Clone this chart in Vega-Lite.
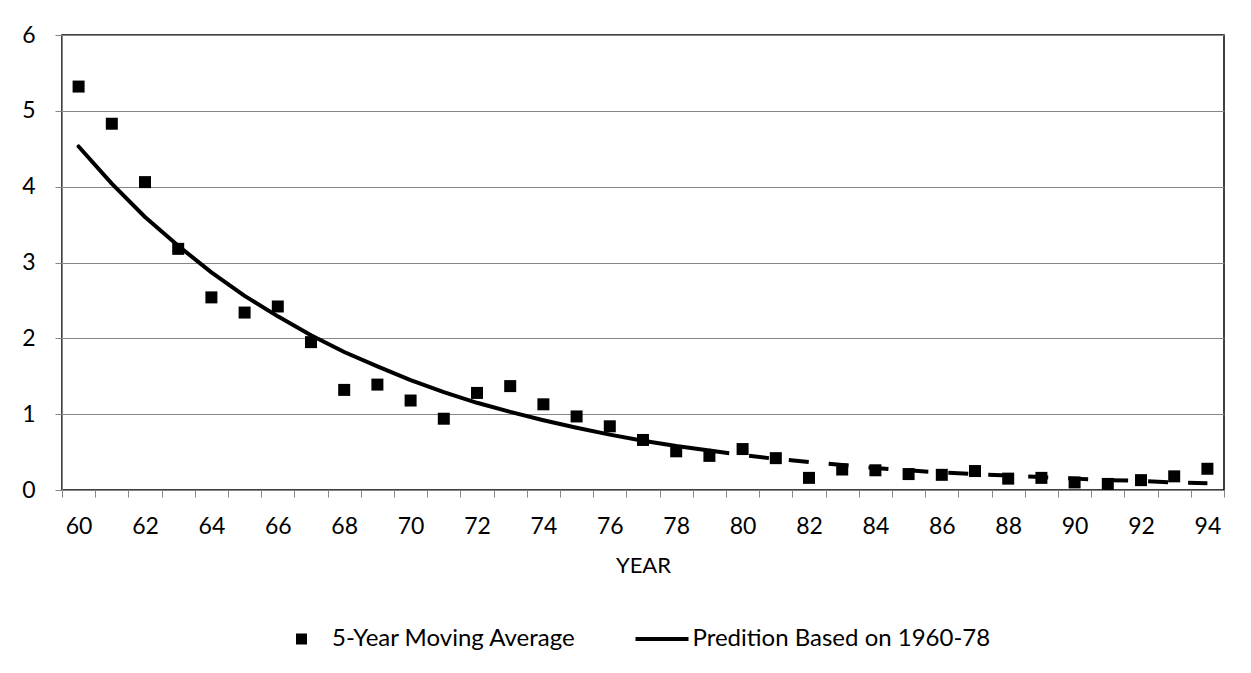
{
  "$schema": "https://vega.github.io/schema/vega-lite/v6.json",
  "width": 1162,
  "height": 455,
  "autosize": {"type": "none"},
  "padding": {"left": 62, "top": 35, "right": 27, "bottom": 183},
  "background": "white",
  "config": {
    "font": "Lato",
    "view": {"stroke": "black", "strokeWidth": 1.5},
    "axis": {
      "labelFont": "Lato",
      "labelFontSize": 23,
      "labelColor": "black",
      "titleFont": "Lato",
      "titleFontSize": 22,
      "titleFontWeight": "normal",
      "titleColor": "black",
      "domainColor": "#868686",
      "tickColor": "#868686",
      "gridColor": "#868686",
      "tickSize": 7
    }
  },
  "datasets": {
    "avg": [
      {"year": 60, "value": 5.32, "series": "5-Year Moving Average"},
      {"year": 61, "value": 4.83, "series": "5-Year Moving Average"},
      {"year": 62, "value": 4.06, "series": "5-Year Moving Average"},
      {"year": 63, "value": 3.18, "series": "5-Year Moving Average"},
      {"year": 64, "value": 2.54, "series": "5-Year Moving Average"},
      {"year": 65, "value": 2.34, "series": "5-Year Moving Average"},
      {"year": 66, "value": 2.42, "series": "5-Year Moving Average"},
      {"year": 67, "value": 1.95, "series": "5-Year Moving Average"},
      {"year": 68, "value": 1.32, "series": "5-Year Moving Average"},
      {"year": 69, "value": 1.39, "series": "5-Year Moving Average"},
      {"year": 70, "value": 1.18, "series": "5-Year Moving Average"},
      {"year": 71, "value": 0.94, "series": "5-Year Moving Average"},
      {"year": 72, "value": 1.28, "series": "5-Year Moving Average"},
      {"year": 73, "value": 1.37, "series": "5-Year Moving Average"},
      {"year": 74, "value": 1.13, "series": "5-Year Moving Average"},
      {"year": 75, "value": 0.97, "series": "5-Year Moving Average"},
      {"year": 76, "value": 0.84, "series": "5-Year Moving Average"},
      {"year": 77, "value": 0.66, "series": "5-Year Moving Average"},
      {"year": 78, "value": 0.51, "series": "5-Year Moving Average"},
      {"year": 79, "value": 0.45, "series": "5-Year Moving Average"},
      {"year": 80, "value": 0.54, "series": "5-Year Moving Average"},
      {"year": 81, "value": 0.42, "series": "5-Year Moving Average"},
      {"year": 82, "value": 0.16, "series": "5-Year Moving Average"},
      {"year": 83, "value": 0.27, "series": "5-Year Moving Average"},
      {"year": 84, "value": 0.26, "series": "5-Year Moving Average"},
      {"year": 85, "value": 0.21, "series": "5-Year Moving Average"},
      {"year": 86, "value": 0.20, "series": "5-Year Moving Average"},
      {"year": 87, "value": 0.25, "series": "5-Year Moving Average"},
      {"year": 88, "value": 0.15, "series": "5-Year Moving Average"},
      {"year": 89, "value": 0.16, "series": "5-Year Moving Average"},
      {"year": 90, "value": 0.10, "series": "5-Year Moving Average"},
      {"year": 91, "value": 0.08, "series": "5-Year Moving Average"},
      {"year": 92, "value": 0.13, "series": "5-Year Moving Average"},
      {"year": 93, "value": 0.18, "series": "5-Year Moving Average"},
      {"year": 94, "value": 0.28, "series": "5-Year Moving Average"}
    ],
    "pred": [
      {"year": 60, "value": 4.53},
      {"year": 61, "value": 4.04},
      {"year": 62, "value": 3.60},
      {"year": 63, "value": 3.22},
      {"year": 64, "value": 2.87},
      {"year": 65, "value": 2.56},
      {"year": 66, "value": 2.29},
      {"year": 67, "value": 2.04},
      {"year": 68, "value": 1.82},
      {"year": 69, "value": 1.63},
      {"year": 70, "value": 1.45},
      {"year": 71, "value": 1.29},
      {"year": 72, "value": 1.15},
      {"year": 73, "value": 1.03},
      {"year": 74, "value": 0.92},
      {"year": 75, "value": 0.82},
      {"year": 76, "value": 0.73},
      {"year": 77, "value": 0.65},
      {"year": 78, "value": 0.58},
      {"year": 79, "value": 0.52},
      {"year": 80, "value": 0.46},
      {"year": 81, "value": 0.41},
      {"year": 82, "value": 0.37},
      {"year": 83, "value": 0.33},
      {"year": 84, "value": 0.29},
      {"year": 85, "value": 0.26},
      {"year": 86, "value": 0.23},
      {"year": 87, "value": 0.21},
      {"year": 88, "value": 0.19},
      {"year": 89, "value": 0.17},
      {"year": 90, "value": 0.15},
      {"year": 91, "value": 0.13},
      {"year": 92, "value": 0.12},
      {"year": 93, "value": 0.10},
      {"year": 94, "value": 0.09}
    ]
  },
  "encoding": {
    "x": {
      "field": "year",
      "type": "ordinal",
      "scale": {"type": "band", "paddingInner": 0, "paddingOuter": 0},
      "axis": {
        "title": "YEAR",
        "tickBand": "extent",
        "labelAngle": 0,
        "labelOverlap": false,
        "labelExpr": "datum.value % 2 == 0 ? datum.label : ''",
        "labelPadding": 18,
        "titlePadding": 17,
        "grid": false
      }
    },
    "y": {
      "field": "value",
      "type": "quantitative",
      "scale": {"domain": [0, 6], "nice": false},
      "axis": {
        "title": null,
        "values": [0, 1, 2, 3, 4, 5, 6],
        "grid": true,
        "labelPadding": 20
      }
    }
  },
  "layer": [
    {
      "data": {"name": "pred"},
      "transform": [{"filter": "datum.year <= 79"}],
      "mark": {"type": "line", "color": "black", "strokeWidth": 4, "strokeCap": "round", "strokeJoin": "round"}
    },
    {
      "data": {"name": "pred"},
      "transform": [{"filter": "datum.year >= 79"}],
      "mark": {"type": "line", "color": "black", "strokeWidth": 4, "strokeCap": "butt", "strokeJoin": "round", "strokeDash": [20, 20]}
    },
    {
      "data": {"name": "avg"},
      "mark": {"type": "point", "filled": true, "size": 144, "color": "black", "opacity": 1},
      "encoding": {
        "shape": {
          "field": "series",
          "type": "nominal",
          "scale": {
            "domain": ["5-Year Moving Average", "Predition Based on 1960-78"],
            "range": ["square", "M-4.82,-0.36H4.82V0.36H-4.82Z"]
          },
          "legend": {
            "title": null,
            "orient": "none",
            "legendX": 227.5,
            "legendY": 592,
            "direction": "horizontal",
            "padding": 0,
            "symbolSize": 121,
            "symbolFillColor": "black",
            "symbolStrokeWidth": 0,
            "symbolOpacity": 1,
            "labelFont": "Lato",
            "labelFontSize": 24,
            "labelColor": "black",
            "labelOffset": 18.5,
            "labelLimit": 500,
            "columnPadding": 58.5
          }
        }
      }
    }
  ]
}
